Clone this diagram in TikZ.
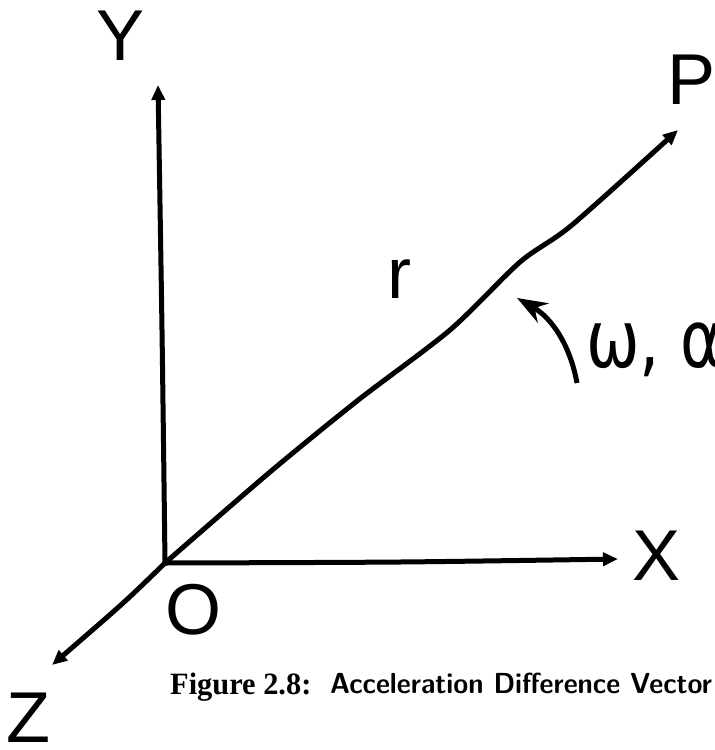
\documentclass[tikz,border=0pt]{standalone}
\usepackage{fontspec}
\setmainfont{Liberation Serif}
\newfontfamily\lblfont{Liberation Sans}
\newfontfamily\greekfont{DejaVu Sans}
\usetikzlibrary{arrows.meta}
\tikzset{
  axis/.style={line width=5pt, line cap=round, line join=round},
  axtip/.style={-{Triangle[length=15pt,width=13pt]}},
  lbl/.style={inner sep=0pt, font=\fontsize{72}{72}\selectfont\lblfont},
}
\begin{document}
\begin{tikzpicture}[x=1pt,y=-1pt]
\useasboundingbox (0,0) rectangle (715,750);
% key points
\coordinate (o) at (165,563);
\coordinate (ytip) at (158,85);
\coordinate (xtip) at (618,559);
\coordinate (ztip) at (52,665);
\coordinate (ptip) at (678,130);
\coordinate (wtail) at (577,383);
\coordinate (wtip) at (517,298);
% labels
\node[lbl] (Y) at (121,36) {Y};
\node[lbl] (P) at (692,80) {P};
\node[lbl] (X) at (657,556) {X};
\node[lbl] (Z) at (28,718) {Z};
\node[lbl] (O) at (194,610) {O};
\node[lbl] (r) at (399,279) {r};
\node[inner sep=0pt, anchor=base west, font=\fontsize{80}{80}\selectfont\greekfont] (w) at (586,367) {\scalebox{0.8}[1]{ω, α}};
% axes
\draw[axis, axtip] plot[smooth, tension=0.5] coordinates {(o) (162,330) (ytip)};
\draw[axis, axtip] plot[smooth, tension=0.5] coordinates {(o) (400,562) (xtip)};
\draw[axis, axtip] plot[smooth, tension=0.5] coordinates {(o) (122,604) (ztip)};
\draw[axis, axtip] plot[smooth, tension=0.45] coordinates {(o) (270,472) (357,401) (450,330) (520,262) (572,225) (ptip)};
% angular velocity arrow
\draw[line width=5pt, -{Stealth[length=30pt,width=22pt]}] (wtail) .. controls (570,345) and (552,318) .. (wtip);
% caption
\node[inner sep=0pt, anchor=base west, font=\fontsize{31}{31}\selectfont\bfseries] (cap1) at (170,694) {\scalebox{0.98}[1]{Figure 2.8:}};
\node[inner sep=0pt, anchor=base west, font=\fontsize{29}{29}\selectfont\sffamily\bfseries] (cap2) at (330,693) {\scalebox{0.94}[1]{Acceleration Difference Vector}};
\end{tikzpicture}
\end{document}
